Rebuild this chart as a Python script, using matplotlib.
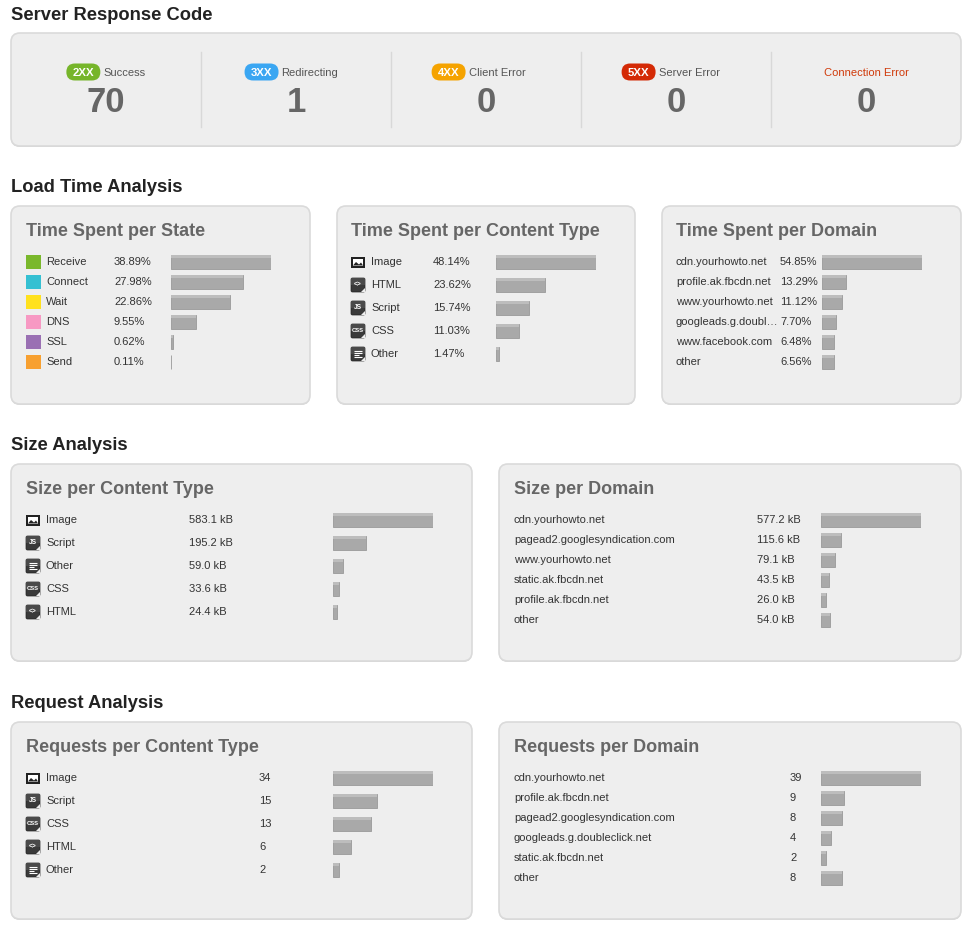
import matplotlib
matplotlib.use("Agg")
import matplotlib.pyplot as plt
from matplotlib.patches import FancyBboxPatch, Rectangle, Polygon

plt.rcParams['font.family'] = ['Liberation Sans', 'DejaVu Sans']

W, H = 969, 931

# ---------------- data ----------------
code_badges = ['2XX', '3XX', '4XX', '5XX', '']
code_labels = ['Success', 'Redirecting', 'Client Error', 'Server Error', 'Connection Error']
code_counts = [70, 1, 0, 0, 0]
badge_colors = ['#76b52a', '#3aa6f2', '#f5a300', '#d42a06', None]

state_labels = ['Receive', 'Connect', 'Wait', 'DNS', 'SSL', 'Send']
state_pct = [38.89, 27.98, 22.86, 9.55, 0.62, 0.11]
state_colors = ['#7ab82c', '#35c0d2', '#ffe11e', '#f799c3', '#9a70b3', '#f7a030']

time_ctype_labels = ['Image', 'HTML', 'Script', 'CSS', 'Other']
time_ctype_pct = [48.14, 23.62, 15.74, 11.03, 1.47]

time_domain_labels = ['cdn.yourhowto.net', 'profile.ak.fbcdn.net', 'www.yourhowto.net',
                      'googleads.g.doubl…', 'www.facebook.com', 'other']
time_domain_pct = [54.85, 13.29, 11.12, 7.70, 6.48, 6.56]

size_ctype_labels = ['Image', 'Script', 'Other', 'CSS', 'HTML']
size_ctype_kb = [583.1, 195.2, 59.0, 33.6, 24.4]

size_domain_labels = ['cdn.yourhowto.net', 'pagead2.googlesyndication.com', 'www.yourhowto.net',
                      'static.ak.fbcdn.net', 'profile.ak.fbcdn.net', 'other']
size_domain_kb = [577.2, 115.6, 79.1, 43.5, 26.0, 54.0]

req_ctype_labels = ['Image', 'Script', 'CSS', 'HTML', 'Other']
req_ctype_count = [34, 15, 13, 6, 2]

req_domain_labels = ['cdn.yourhowto.net', 'profile.ak.fbcdn.net', 'pagead2.googlesyndication.com',
                     'googleads.g.doubleclick.net', 'static.ak.fbcdn.net', 'other']
req_domain_count = [39, 9, 8, 4, 2, 8]

# ---------------- figure ----------------
fig = plt.figure(figsize=(W / 100, H / 100), dpi=100)
fig.patch.set_facecolor('white')
ax = fig.add_axes([0, 0, 1, 1])
ax.set_xlim(0, W)
ax.set_ylim(H, 0)
ax.axis('off')

TXT = '#333333'
TITLE_GREY = '#666666'


def panel(x0, y0, x1, y1):
    sh = FancyBboxPatch((x0, y0 + 1), x1 - x0, y1 - y0,
                        boxstyle="round,pad=0,rounding_size=9",
                        fc='#d6d6d6', ec='none', zorder=1)
    ax.add_patch(sh)
    p = FancyBboxPatch((x0, y0), x1 - x0, y1 - y0,
                       boxstyle="round,pad=0,rounding_size=9",
                       fc='#eeeeee', ec='#dadada', lw=1.2, zorder=2)
    ax.add_patch(p)


def section_title(x, y, s):
    ax.text(x, y, s, fontsize=13.2, fontweight='bold', color='#222222',
            va='center', ha='left', zorder=5)


def panel_title(x, y, s):
    ax.text(x, y, s, fontsize=13, fontweight='bold', color=TITLE_GREY,
            va='center', ha='left', zorder=5)


def icon(x, yc, kind):
    s = 14
    y0 = yc - s / 2
    if kind == 'Image':
        ax.add_patch(Rectangle((x, y0 + 1.5), s, s - 3, fc='#222222', ec='none', zorder=4))
        ax.add_patch(Rectangle((x + 2, y0 + 3.5), s - 4, s - 7, fc='white', ec='none', zorder=5))
        ax.add_patch(Polygon([(x + 2, y0 + s - 3.5), (x + 5, y0 + 7), (x + 8, y0 + 9.5),
                              (x + 10, y0 + 7.5), (x + s - 2, y0 + s - 3.5)],
                             closed=True, fc='#222222', ec='none', zorder=6))
        return
    ax.add_patch(FancyBboxPatch((x, y0), s, s, boxstyle="round,pad=0,rounding_size=1.5",
                                fc='#3a3a3a', ec='#222222', lw=0.5, zorder=4))
    ax.add_patch(Rectangle((x, y0), s, s / 2, fc='#4a4a4a', ec='none', zorder=4.5))
    ax.add_patch(Polygon([(x + s - 4, y0 + s), (x + s, y0 + s - 4), (x + s, y0 + s)],
                         closed=True, fc='#eeeeee', ec='none', zorder=5))
    if kind == 'Other':
        for i, w in enumerate([8, 8, 5, 8]):
            ax.plot([x + 3, x + 3 + w], [y0 + 3.5 + i * 2.3, y0 + 3.5 + i * 2.3],
                    color='white', lw=0.8, zorder=6, solid_capstyle='butt')
    else:
        g = {'Script': 'JS', 'CSS': 'CSS', 'HTML': '<>'}[kind]
        ax.text(x + s / 2, yc - 0.5, g, fontsize=4.2 if kind == 'CSS' else 4.8,
                fontweight='bold', color='white', ha='center', va='center', zorder=6)


def bars(x0, yfirst, step, values, width=100, h=14):
    n = len(values)
    top = yfirst - step / 2
    bottom = yfirst + step * (n - 0.5)
    bax = fig.add_axes([x0 / W, 1 - bottom / H, width / W, (bottom - top) / H])
    bax.set_xlim(0, max(values))
    bax.set_ylim(n - 0.5, -0.5)
    bax.axis('off')
    bax.patch.set_alpha(0)
    bax.barh(range(n), values, height=h / step, color='#a9a9a9',
             edgecolor='#999999', linewidth=0.6, align='center')
    bax.barh([i - (h / step) * 0.5 + (h / step) * 0.1 for i in range(n)], values,
             height=(h / step) * 0.25, color='#bdbdbd', linewidth=0, align='center')


# ---------------- Server Response Code ----------------
section_title(11, 16, 'Server Response Code')
panel(11, 33, 961, 146)
for i in range(5):
    cx = 106 + 190 * i
    if i > 0:
        ax.plot([11 + 190 * i, 11 + 190 * i], [52, 127], color='#d8d8d8', lw=1, zorder=3)
    if code_badges[i]:
        bw, lab_w = 34, len(code_labels[i]) * 5.9
        total = bw + 4 + lab_w
        bx = cx - total / 2
        ax.add_patch(FancyBboxPatch((bx, 63.5), bw, 17, boxstyle="round,pad=0,rounding_size=8.5",
                                    fc=badge_colors[i], ec='none', zorder=4))
        ax.text(bx + bw / 2, 72.5, code_badges[i], fontsize=8.2, fontweight='bold',
                color='white', ha='center', va='center', zorder=5)
        ax.text(bx + bw + 3, 72.5, code_labels[i], fontsize=8, color='#555555',
                ha='left', va='center', zorder=5)
    else:
        ax.text(cx, 72.5, code_labels[i], fontsize=8, color='#d03a0a',
                ha='center', va='center', zorder=5)
    ax.text(cx, 102, str(code_counts[i]), fontsize=25, fontweight='bold',
            color='#666666', ha='center', va='center', zorder=5)

# ---------------- Load Time Analysis ----------------
section_title(11, 188, 'Load Time Analysis')
panel(11, 206, 310, 404)
panel(337, 206, 635, 404)
panel(662, 206, 961, 404)
panel_title(26, 231, 'Time Spent per State')
panel_title(351, 231, 'Time Spent per Content Type')
panel_title(676, 231, 'Time Spent per Domain')

for i, (lab, v, c) in enumerate(zip(state_labels, state_pct, state_colors)):
    y = 262 + 20 * i
    ax.add_patch(Rectangle((26, y - 7), 15, 14, fc=c, ec='none', zorder=4))
    ax.text(46, y, lab, fontsize=8, color=TXT, va='center', zorder=5)
    ax.text(114, y, f'{v:.2f}%', fontsize=8, color=TXT, va='center', zorder=5)
bars(171, 262, 20, state_pct)

for i, (lab, v) in enumerate(zip(time_ctype_labels, time_ctype_pct)):
    y = 262 + 23 * i
    icon(351, y, lab)
    ax.text(371, y, lab, fontsize=8, color=TXT, va='center', zorder=5)
    ax.text(433, y, f'{v:.2f}%', fontsize=8, color=TXT, va='center', zorder=5)
bars(496, 262, 23, time_ctype_pct)

for i, (lab, v) in enumerate(zip(time_domain_labels, time_domain_pct)):
    y = 262 + 20 * i
    ax.text(676, y, lab, fontsize=8, color=TXT, va='center', zorder=5)
    ax.text(780, y, f'{v:.2f}%', fontsize=8, color=TXT, va='center', zorder=5)
bars(822, 262, 20, time_domain_pct)

# ---------------- Size Analysis ----------------
section_title(11, 446, 'Size Analysis')
panel(11, 464, 472, 661)
panel(499, 464, 961, 661)
panel_title(26, 489, 'Size per Content Type')
panel_title(514, 489, 'Size per Domain')

for i, (lab, v) in enumerate(zip(size_ctype_labels, size_ctype_kb)):
    y = 520 + 23 * i
    icon(26, y, lab)
    ax.text(46, y, lab, fontsize=8, color=TXT, va='center', zorder=5)
    ax.text(189, y, f'{v:.1f} kB', fontsize=8, color=TXT, va='center', zorder=5)
bars(333, 520, 23, size_ctype_kb)

for i, (lab, v) in enumerate(zip(size_domain_labels, size_domain_kb)):
    y = 520 + 20 * i
    ax.text(514, y, lab, fontsize=8, color=TXT, va='center', zorder=5)
    ax.text(757, y, f'{v:.1f} kB', fontsize=8, color=TXT, va='center', zorder=5)
bars(821, 520, 20, size_domain_kb)

# ---------------- Request Analysis ----------------
section_title(11, 704, 'Request Analysis')
panel(11, 722, 472, 919)
panel(499, 722, 961, 919)
panel_title(26, 747, 'Requests per Content Type')
panel_title(514, 747, 'Requests per Domain')

for i, (lab, v) in enumerate(zip(req_ctype_labels, req_ctype_count)):
    y = 778 + 23 * i
    icon(26, y, lab)
    ax.text(46, y, lab, fontsize=8, color=TXT, va='center', zorder=5)
    ax.text(259, y, str(v), fontsize=8, color=TXT, va='center', zorder=5)
bars(333, 778, 23, req_ctype_count)

for i, (lab, v) in enumerate(zip(req_domain_labels, req_domain_count)):
    y = 778 + 20 * i
    ax.text(514, y, lab, fontsize=8, color=TXT, va='center', zorder=5)
    ax.text(790, y, str(v), fontsize=8, color=TXT, va='center', zorder=5)
bars(821, 778, 20, req_domain_count)

fig.savefig('out.png', dpi=100, facecolor='white')
